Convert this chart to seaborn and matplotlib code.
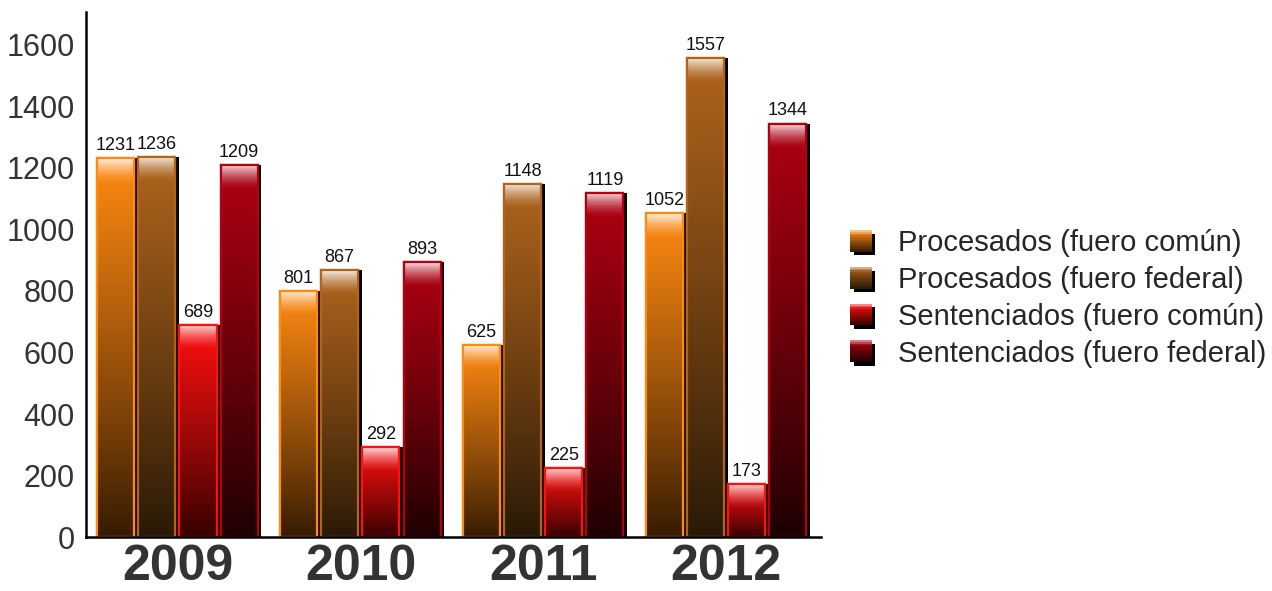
"""Procesados y sentenciados por fuero, 2009-2012."""

import numpy as np
import pandas as pd
import matplotlib
matplotlib.use("Agg")
import matplotlib.pyplot as plt
import matplotlib.colors as mcolors
from matplotlib.patches import Rectangle
from matplotlib.legend_handler import HandlerBase
import seaborn as sns

years = ["2009", "2010", "2011", "2012"]
series = [
    "Procesados (fuero común)",
    "Procesados (fuero federal)",
    "Sentenciados (fuero común)",
    "Sentenciados (fuero federal)",
]
proc_comun = [1231, 801, 625, 1052]
proc_federal = [1236, 867, 1148, 1557]
sent_comun = [689, 292, 225, 173]
sent_federal = [1209, 893, 1119, 1344]

# (top colour, bottom colour) for each series
TOPS = ["#ff8a12", "#b0641c", "#ff1010", "#b00012"]
BOTTOMS = ["#341a02", "#281806", "#340000", "#1c0002"]

df = pd.DataFrame({
    "year": years * 4,
    "serie": [s for s in series for _ in years],
    "valor": proc_comun + proc_federal + sent_comun + sent_federal,
})

sns.set_theme(style="white")
plt.rcParams["font.family"] = ["Liberation Sans", "DejaVu Sans"]

fig = plt.figure(figsize=(12.72, 5.91), dpi=100)
ax = fig.add_axes([0.0676, 0.091, 0.578, 0.889])

sns.barplot(data=df, x="year", y="valor", hue="serie", hue_order=series,
            palette=TOPS, width=0.9, gap=0.1, legend=False, ax=ax)

YMAX = 1707
HL = 80  # highlight depth in data units


def bar_gradient(top, bottom, h, n=256):
    t = np.linspace(0, 1, n)
    c_top = np.array(mcolors.to_rgb(top))
    c_bot = np.array(mcolors.to_rgb(bottom))
    k = t[:, None] ** 0.9
    rgb = c_bot + (c_top - c_bot) * k
    y = t * h
    a = np.clip((y - (h - HL)) / HL, 0, 1) ** 1.5
    rgb = rgb + (1 - rgb) * (0.85 * a)[:, None]
    return np.concatenate([rgb, np.ones((n, 1))], axis=1)[:, None, :]


for i, cont in enumerate(ax.containers):
    for bar in cont:
        x, w, h = bar.get_x(), bar.get_width(), bar.get_height()
        shadow = Rectangle((x + 0.02, 0), w, h, facecolor="black",
                           edgecolor="none", zorder=1.5)
        ax.add_patch(shadow)
        bar.set_zorder(2)
        bar.set_edgecolor(TOPS[i])
        bar.set_linewidth(1.6)
        img = ax.imshow(bar_gradient(TOPS[i], BOTTOMS[i], h), extent=[x, x + w, 0, h],
                        origin="lower", aspect="auto", zorder=2.1, interpolation="bilinear")
        img.set_clip_path(bar)
        edge = Rectangle((x, 0), w, h, facecolor="none", edgecolor=TOPS[i],
                         linewidth=1.6, zorder=2.2)
        ax.add_patch(edge)
    ax.bar_label(cont, fontsize=13, color="#111111", padding=3)

ax.set_xlim(-0.5, 3.52)
ax.set_ylim(0, YMAX)
ax.set_yticks(range(0, 1601, 200))
ax.set_xlabel("")
ax.set_ylabel("")
ax.tick_params(axis="y", length=0, pad=8, labelsize=22, labelcolor="#333333")
ax.tick_params(axis="x", length=0, pad=5, labelsize=36, labelcolor="#333333")
for lab in ax.get_xticklabels():
    lab.set_fontweight("bold")

for side in ["top", "right"]:
    ax.spines[side].set_visible(False)
for side in ["left", "bottom"]:
    ax.spines[side].set_color("black")
    ax.spines[side].set_linewidth(1.8)


class GradientSquare(HandlerBase):
    def __init__(self, top, bottom):
        super().__init__()
        self.top = top
        self.bottom = bottom

    def create_artists(self, legend, orig_handle, xdescent, ydescent, width, height, fontsize, trans):
        s = height * 1.0
        x0 = -xdescent + (width - s) / 2
        y0 = -ydescent + (height - s) / 2
        arts = [Rectangle((x0 + 2.5, y0 - 2.5), s, s, facecolor="black", edgecolor="none", transform=trans)]
        n = 14
        c_top = np.array(mcolors.to_rgb(self.top))
        c_bot = np.array(mcolors.to_rgb(self.bottom))
        for j in range(n):
            t = (j + 0.5) / n
            c = c_bot + (c_top - c_bot) * t
            if t > 0.8:
                c = c + (1 - c) * 0.6 * ((t - 0.8) / 0.2)
            arts.append(Rectangle((x0, y0 + s * j / n), s, s / n + 0.3, facecolor=c,
                                  edgecolor="none", transform=trans))
        return arts


handles = [Rectangle((0, 0), 1, 1) for _ in series]
handler_map = {h: GradientSquare(TOPS[i], BOTTOMS[i]) for i, h in enumerate(handles)}
fig.legend(handles, series, handler_map=handler_map, loc="center left",
           bbox_to_anchor=(0.646, 0.495), frameon=False, fontsize=21,
           handlelength=0.9, handleheight=0.75, handletextpad=0.8, labelspacing=0.3)

fig.savefig("out.png", dpi=100)
